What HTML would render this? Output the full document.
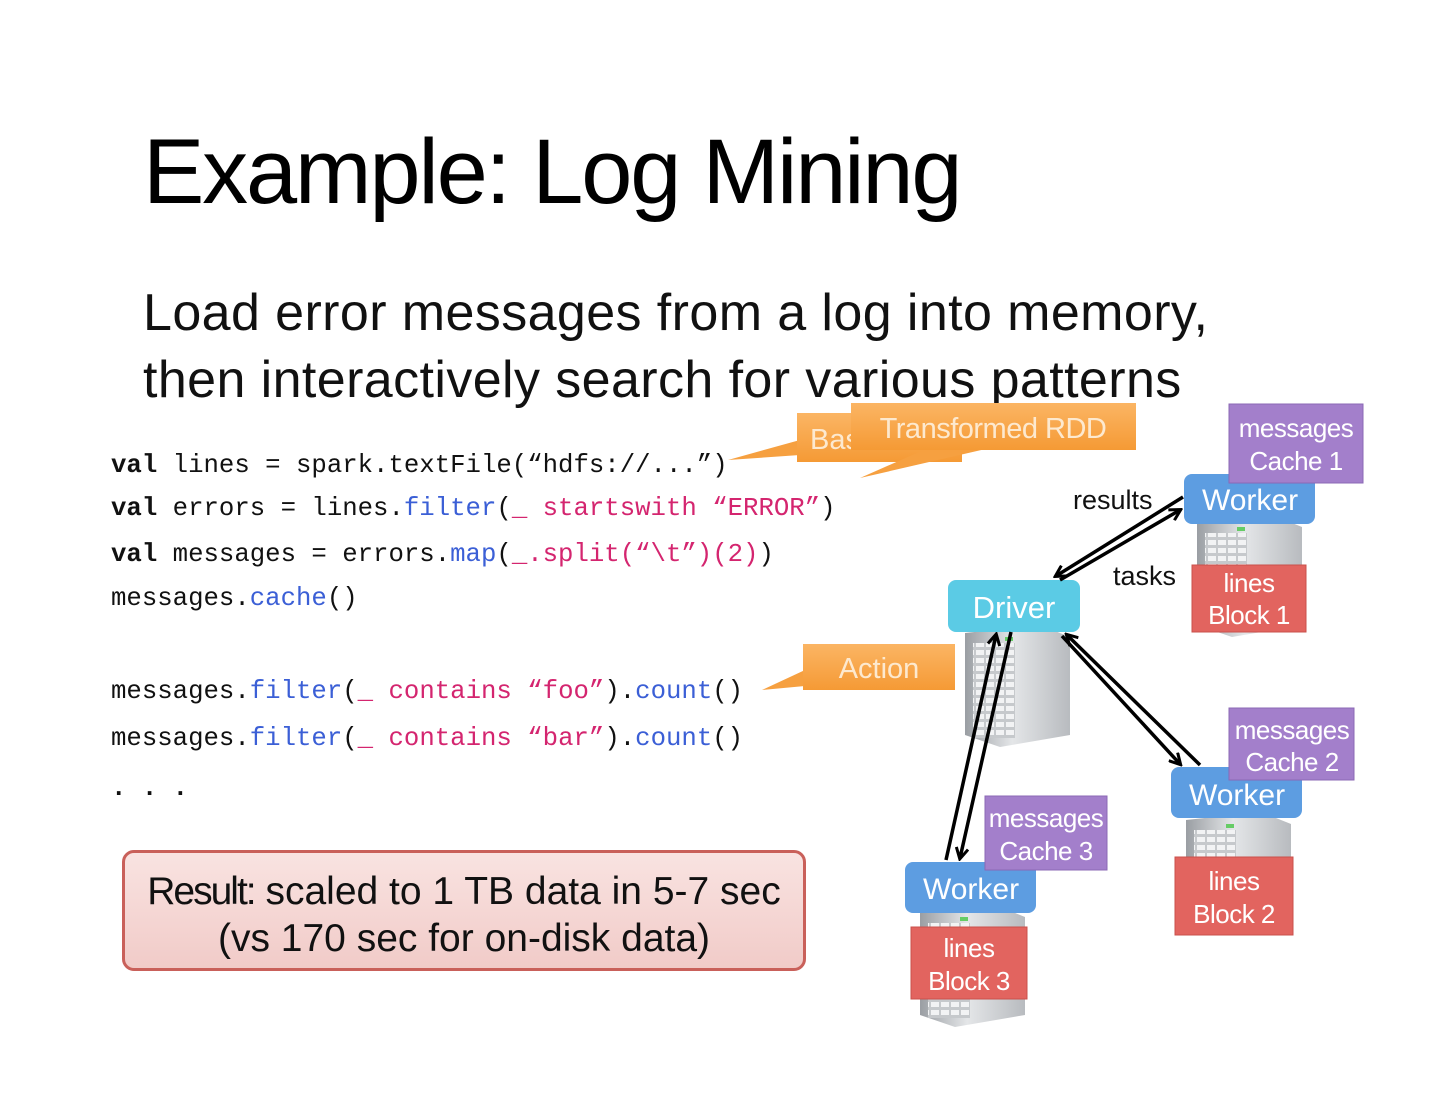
<!DOCTYPE html>
<html><head><meta charset="utf-8"><style>
body{margin:0;width:1440px;height:1113px;background:#fff;position:relative;overflow:hidden;font-family:"Liberation Sans",sans-serif}
.a{position:absolute;white-space:pre}
.t{left:143px;top:120px;font-size:92px;letter-spacing:-2.2px;color:#000}
.s{left:143px;font-size:52px;letter-spacing:0.4px;color:#111}
.c{left:111px;font-family:"Liberation Mono",monospace;font-size:25.7px;color:#111;line-height:30px}
.b{color:#3b5fd6}.m{color:#d4256f}
.res{left:122px;top:850px;width:684px;height:121px;border:3px solid #c9605a;border-radius:12px;background:linear-gradient(#f9e3e1,#f1cbc8);text-align:center;font-size:39px;color:#111;line-height:47px;padding-top:15px;box-sizing:border-box;letter-spacing:0px}
</style></head><body>
<div class="a t">Example: Log Mining</div>
<div class="a s" style="top:283px">Load error messages from a log into memory,</div>
<div class="a s" style="top:350px">then interactively search for various patterns</div>

<div class="a c" style="top:451px"><b>val</b> lines = spark.textFile(“hdfs://...”)</div>
<div class="a c" style="top:494px"><b>val</b> errors = lines.<span class="b">filter</span>(<span class="m">_ startswith “ERROR”</span>)</div>
<div class="a c" style="top:540px"><b>val</b> messages = errors.<span class="b">map</span>(<span class="m">_.split(“\t”)(2)</span>)</div>
<div class="a c" style="top:584px">messages.<span class="b">cache</span>()</div>
<div class="a c" style="top:677px">messages.<span class="b">filter</span>(<span class="m">_ contains “foo”</span>).<span class="b">count</span>()</div>
<div class="a c" style="top:724px">messages.<span class="b">filter</span>(<span class="m">_ contains “bar”</span>).<span class="b">count</span>()</div>
<div class="a c" style="top:774px;font-weight:bold">. . .</div>

<div class="a res"><span style="letter-spacing:-2px">Result:</span> scaled to 1 TB data in 5-7 sec<br>(vs 170 sec for on-disk data)</div>

<svg class="a" style="left:0;top:0" width="1440" height="1113">
<defs>
<linearGradient id="or" x1="0" y1="0" x2="0" y2="1"><stop offset="0" stop-color="#fbb564"/><stop offset="1" stop-color="#f59a35"/></linearGradient>
<linearGradient id="sv" x1="0" y1="0" x2="1" y2="0"><stop offset="0" stop-color="#9a9ea3"/><stop offset="0.45" stop-color="#e4e6e8"/><stop offset="1" stop-color="#b8bbbf"/></linearGradient>
<pattern id="gr" width="10" height="8" patternUnits="userSpaceOnUse"><rect width="10" height="8" fill="#c6c9cc"/><rect x="1" y="1" width="8" height="5" fill="#f2f3f4"/></pattern>
<marker id="ah" markerWidth="14" markerHeight="14" refX="11" refY="7" orient="auto" markerUnits="userSpaceOnUse"><path d="M1,1 L12,7 L1,13" fill="none" stroke="#000" stroke-width="3"/></marker>
<g id="srv"><path d="M0,8 L75,0 L105,12 L105,110 L35,122 L0,110 Z" fill="url(#sv)"/><rect x="8" y="18" width="42" height="95" fill="url(#gr)"/><rect x="40" y="12" width="8" height="4" fill="#6c6"/></g>
</defs>
<path d="M800,440 L728,460 L800,455 Z" fill="#f6a040"/>
<rect x="797" y="413" width="165" height="49" fill="url(#or)"/>
<text x="810" y="449" font-size="29" fill="#fde9cf">Bas</text>
<path d="M935,445 L860,478 L990,448 Z" fill="#f6a040"/>
<rect x="851" y="403" width="285" height="47" fill="url(#or)"/>
<text x="993" y="438" font-size="29" fill="#fde9cf" text-anchor="middle" letter-spacing="-0.5">Transformed RDD</text>
<path d="M805,670 L762,690 L805,686 Z" fill="#f6a040"/>
<rect x="803" y="644" width="152" height="46" fill="url(#or)"/>
<text x="879" y="678" font-size="29" fill="#fde9cf" text-anchor="middle">Action</text>
<use href="#srv" transform="translate(965,625)"/>
<use href="#srv" transform="translate(1197,515)"/>
<use href="#srv" transform="translate(1186,812)"/>
<use href="#srv" transform="translate(920,905)"/>
<rect x="948" y="580" width="132" height="52" rx="8" fill="#5bcbe5"/>
<text x="1014" y="618" font-size="31" fill="#fff" text-anchor="middle">Driver</text>
<g font-size="30" fill="#fff" text-anchor="middle">
<rect x="1184" y="474" width="131" height="50" rx="8" fill="#5d9de1"/><text x="1250" y="510">Worker</text>
<rect x="1171" y="767" width="131" height="51" rx="8" fill="#5d9de1"/><text x="1237" y="805">Worker</text>
<rect x="905" y="862" width="131" height="51" rx="8" fill="#5d9de1"/><text x="971" y="899">Worker</text>
</g>
<g font-size="26" fill="#fff" text-anchor="middle" letter-spacing="-0.5">
<rect x="1229" y="404" width="134" height="79" fill="#a37fcb" stroke="#8b68b5"/><text x="1296" y="437">messages</text><text x="1296" y="470">Cache 1</text>
<rect x="1229" y="708" width="125" height="72" fill="#a37fcb" stroke="#8b68b5"/><text x="1292" y="739">messages</text><text x="1292" y="771">Cache 2</text>
<rect x="985" y="796" width="122" height="74" fill="#a37fcb" stroke="#8b68b5"/><text x="1046" y="827">messages</text><text x="1046" y="860">Cache 3</text>
<rect x="1192" y="565" width="114" height="67" fill="#e2645f" stroke="#c9504b"/><text x="1249" y="592">lines</text><text x="1249" y="624">Block 1</text>
<rect x="1175" y="857" width="118" height="78" fill="#e2645f" stroke="#c9504b"/><text x="1234" y="890">lines</text><text x="1234" y="923">Block 2</text>
<rect x="911" y="927" width="116" height="72" fill="#e2645f" stroke="#c9504b"/><text x="969" y="957">lines</text><text x="969" y="990">Block 3</text>
</g>
<g stroke="#000" stroke-width="3.5" fill="none">
<line x1="1183" y1="497" x2="1056" y2="576" marker-end="url(#ah)"/>
<line x1="1060" y1="580" x2="1180" y2="510" marker-end="url(#ah)"/>
<line x1="946" y1="860" x2="996" y2="635" marker-end="url(#ah)"/>
<line x1="1011" y1="632" x2="960" y2="858" marker-end="url(#ah)"/>
<line x1="1062" y1="636" x2="1180" y2="764" marker-end="url(#ah)"/>
<line x1="1200" y1="765" x2="1067" y2="635" marker-end="url(#ah)"/>
</g>
<text x="1073" y="509" font-size="27" fill="#111">results</text>
<text x="1113" y="585" font-size="27" fill="#111">tasks</text>
</svg>
</body></html>
